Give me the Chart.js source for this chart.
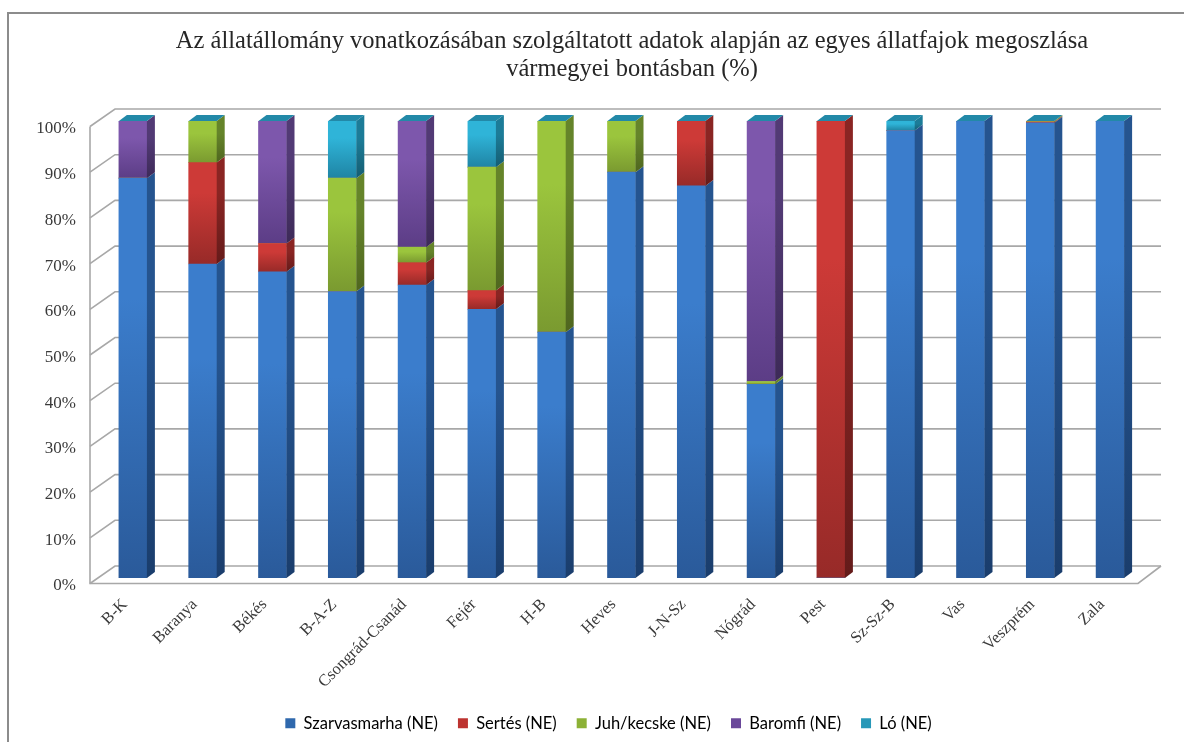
<!DOCTYPE html>
<html lang="hu">
<head>
<meta charset="utf-8">
<title>Állatfajok megoszlása</title>
<script src="https://cdn.jsdelivr.net/npm/chart.js@4"></script>
<style>
  html, body { margin: 0; padding: 0; background: #fff; }
  canvas { display: block; }
</style>
</head>
<body>
<canvas id="chart" width="1184" height="742"></canvas>
<script>
const titleLines = [
  'Az állatállomány vonatkozásában szolgáltatott adatok alapján az egyes állatfajok megoszlása',
  'vármegyei bontásban (%)'
];
const categories = ['B-K', 'Baranya', 'Békés', 'B-A-Z', 'Csongrád-Csanád', 'Fejér', 'H-B', 'Heves', 'J-N-Sz', 'Nógrád', 'Pest', 'Sz-Sz-B', 'Vas', 'Veszprém', 'Zala'];
const seriesNames = ['Szarvasmarha (NE)', 'Sertés (NE)', 'Juh/kecske (NE)', 'Baromfi (NE)', 'Ló (NE)'];

const szarvasmarha = [87.5, 68.7, 67.0, 62.7, 64.1, 58.8, 53.8, 88.8, 85.8, 42.4, 0, 97.9, 100, 99.6, 100];
const sertes = [0, 22.2, 6.2, 0, 4.9, 4.1, 0, 0, 14.2, 0, 100, 0, 0, 0.2, 0];
const juh = [0, 9.1, 0, 24.8, 3.4, 27.0, 46.2, 11.2, 0, 0.6, 0, 0, 0, 0.2, 0];
const baromfi = [12.5, 0, 26.8, 0, 27.6, 0, 0, 0, 0, 57.0, 0, 0, 0, 0, 0];
const lo = [0, 0, 0, 12.5, 0, 10.1, 0, 0, 0, 0, 0, 2.1, 0, 0, 0];
const seriesValues = [szarvasmarha, sertes, juh, baromfi, lo];

// light top, dark bottom, side top, side bottom
const faceColors = [
  ['#3b7dcc', '#2a5a9a', '#25548f', '#1a3d6c'],
  ['#cd3a37', '#972a28', '#8a2523', '#641b1a'],
  ['#9bc53d', '#7a9a30', '#65842a', '#4f661f'],
  ['#7d57ac', '#5c3d86', '#523a75', '#3d2a58'],
  ['#2fb4d8', '#1f84a4', '#1c7c98', '#155d72']
];
const legendColors = ['#2f68ad', '#bd3330', '#8cb136', '#6a489a', '#2798b8'];
const capColor = '#2289a8';
const gridColor = '#a8a8a8';
const textColor = '#3a3a3a';

const depthX = 8, depthY = 6;

function segmentGradient(c, top, bottom, light, dark) {
  const g = c.createLinearGradient(0, top, 0, bottom);
  g.addColorStop(0, light);
  g.addColorStop(0.3, light);
  g.addColorStop(1, dark);
  return g;
}

function frontFill(ctx) {
  const colors = faceColors[ctx.datasetIndex];
  const chart = ctx.chart;
  if (!chart.chartArea || ctx.dataIndex === undefined) return colors[0];
  let below = 0;
  for (let i = 0; i < ctx.datasetIndex; i++) below += seriesValues[i][ctx.dataIndex];
  const y = chart.scales.y;
  const top = y.getPixelForValue(below + seriesValues[ctx.datasetIndex][ctx.dataIndex]);
  const bottom = y.getPixelForValue(below);
  if (bottom - top < 1) return colors[0];
  return segmentGradient(chart.ctx, top, bottom, colors[0], colors[1]);
}

// frame, back walls and grid of the pseudo 3D box
const wallsPlugin = {
  id: 'walls',
  beforeDraw(chart) {
    const c = chart.ctx;
    c.save();
    c.strokeStyle = '#8c8c8c';
    c.lineWidth = 2;
    c.beginPath();
    c.moveTo(8, 742);
    c.lineTo(8, 13);
    c.lineTo(1184, 13);
    c.stroke();
    c.restore();
  },
  beforeDatasetsDraw(chart) {
    const c = chart.ctx;
    const y = chart.scales.y;
    const x = chart.scales.x;
    const frontX = x.left - 8, backX = x.left + 17, backRight = x.right + 16, frontRight = x.right - 7;
    c.save();
    c.strokeStyle = gridColor;
    c.lineWidth = 1.6;
    y.ticks.forEach(t => {
      const p = y.getPixelForValue(t.value);
      c.beginPath();
      c.moveTo(frontX, p + 5.5);
      c.lineTo(backX, p - 12);
      c.lineTo(backRight, p - 12);
      c.stroke();
    });
    const top = y.getPixelForValue(100), bottom = y.getPixelForValue(0);
    c.beginPath();
    c.moveTo(frontX, top + 5.5);
    c.lineTo(frontX, bottom + 5.5);
    c.lineTo(frontRight, bottom + 5.5);
    c.lineTo(backRight, bottom - 12);
    c.stroke();
    c.restore();
  },
  afterDatasetsDraw(chart) {
    const c = chart.ctx;
    c.save();
    chart.data.datasets.forEach((ds, di) => {
      const colors = faceColors[di];
      chart.getDatasetMeta(di).data.forEach((bar, i) => {
        if (!ds.data[i]) return;
        const right = bar.x + bar.width / 2;
        c.fillStyle = segmentGradient(c, bar.y, bar.base, colors[2], colors[3]);
        c.beginPath();
        c.moveTo(right, bar.y);
        c.lineTo(right + depthX, bar.y - depthY);
        c.lineTo(right + depthX, bar.base - depthY);
        c.lineTo(right, bar.base);
        c.closePath();
        c.fill();
      });
    });
    // all columns reach 100%, the cap belongs to the last series
    const last = chart.data.datasets.length - 1;
    chart.getDatasetMeta(last).data.forEach(bar => {
      const left = bar.x - bar.width / 2, right = bar.x + bar.width / 2;
      c.fillStyle = capColor;
      c.beginPath();
      c.moveTo(left, bar.y);
      c.lineTo(right, bar.y);
      c.lineTo(right + depthX, bar.y - depthY);
      c.lineTo(left + depthX, bar.y - depthY);
      c.closePath();
      c.fill();
    });
    c.restore();
  },
  afterLayout(chart) {
    // the title and legend are not centred on the canvas in the original
    chart.titleBlock.left = 80;
    chart.titleBlock.right = 1184;
    chart.legend.left += 36;
    chart.legend.right += 36;
    chart.legend.top = 695;
    chart.legend.bottom = 742;
  }
};

new Chart(document.getElementById('chart'), {
  type: 'bar',
  data: {
    labels: categories,
    datasets: seriesNames.map((name, i) => ({
      label: name,
      data: seriesValues[i],
      backgroundColor: frontFill,
      borderWidth: 0,
      barThickness: 28
    }))
  },
  options: {
    responsive: false,
    animation: false,
    layout: { padding: { left: 0, right: 39, top: 0, bottom: 0 } },
    plugins: {
      tooltip: { enabled: false },
      title: {
        display: true,
        text: titleLines,
        color: '#262626',
        font: { family: '"Liberation Serif", serif', size: 24.5, weight: 'normal', lineHeight: 28 / 24.5 },
        padding: { top: 28, bottom: 37 }
      },
      legend: {
        display: true,
        position: 'bottom',
        maxHeight: 30,
        labels: {
          boxWidth: 10,
          boxHeight: 10,
          padding: 20,
          color: '#1f1f1f',
          font: { family: 'Lato, sans-serif', size: 16.5 },
          generateLabels: () => seriesNames.map((name, i) => ({
            text: name,
            fillStyle: legendColors[i],
            strokeStyle: legendColors[i],
            lineWidth: 0,
            datasetIndex: i
          }))
        }
      }
    },
    scales: {
      x: {
        stacked: true,
        grid: { display: false, drawTicks: false },
        border: { display: false },
        afterFit: scale => { scale.height = 134; },
        ticks: {
          autoSkip: false,
          minRotation: 45,
          maxRotation: 45,
          padding: 17,
          labelOffset: -8,
          color: textColor,
          font: { family: '"Liberation Serif", serif', size: 16.5 }
        }
      },
      y: {
        stacked: true,
        min: 0,
        max: 100,
        grid: { display: false, drawTicks: false },
        border: { display: false },
        afterFit: scale => { scale.width = 98; },
        ticks: {
          stepSize: 10,
          padding: 22,
          labelOffset: 8,
          color: textColor,
          font: { family: '"Liberation Serif", serif', size: 17 },
          callback: v => v + '%'
        }
      }
    }
  },
  plugins: [wallsPlugin]
});
</script>
</body>
</html>
